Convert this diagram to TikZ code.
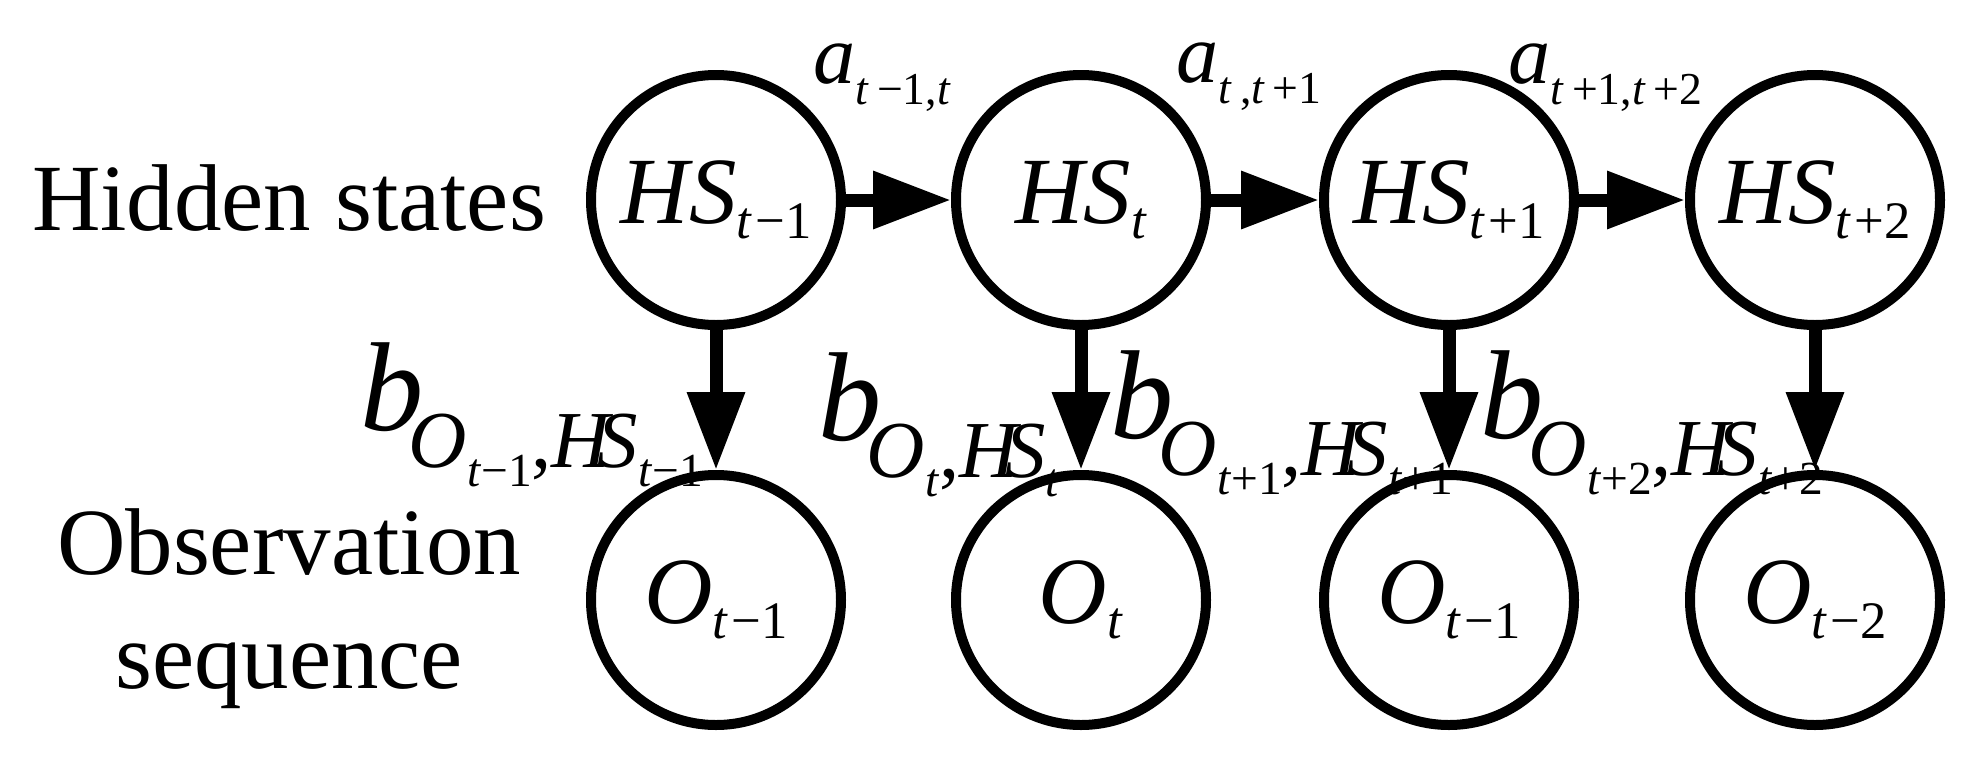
\documentclass[tikz,border=0pt]{standalone}
\usepackage{amsmath}
\usepackage{fontspec}
\setmainfont{Liberation Serif}
\usetikzlibrary{positioning,arrows.meta}

\newcommand{\lo}[1]{\raisebox{-0.15cm}{\fontsize{15}{16}\selectfont #1}}
\newcommand{\alo}[1]{\raisebox{-0.21cm}{\fontsize{13}{14}\selectfont #1}}
\newcommand{\blo}[1]{\raisebox{-0.37cm}{\fontsize{23}{25}\selectfont #1}}
\newcommand{\bblo}[1]{\raisebox{-0.19cm}{\fontsize{13.5}{14}\selectfont #1}}
\newcommand{\ti}{\textit{t}}

\begin{document}
\begin{tikzpicture}[
    state/.style={circle, draw, line width=0.1cm, minimum size=2.5cm, inner sep=0pt,
        font=\fontsize{27}{30}\selectfont},
    arr/.style={line width=0.13cm, -{Triangle[length=0.78cm, width=0.55cm]}},
    lab/.style={inner sep=0pt, anchor=base west},
    side/.style={inner sep=0pt, align=center, font=\fontsize{27}{32.6}\selectfont}]

    \useasboundingbox (0,0) rectangle (19.79,-7.79);

    % hidden states
    \node[state] (hs1) at (7.16,-2.00) {\textit{HS}\lo{\ti\kern.06em−1}};
    \node[state] (hs2) at (10.81,-2.00) {\textit{HS}\lo{\ti}};
    \node[state] (hs3) at (14.49,-2.00) {\textit{HS}\lo{\ti\kern.06em+1}};
    \node[state] (hs4) at (18.15,-2.00) {\textit{HS}\lo{\ti\kern.06em+2}};

    % observations
    \node[state] (ob1) at (7.16,-6.00) {\textit{O}\lo{\ti\kern.06em−1}};
    \node[state] (ob2) at (10.81,-6.00) {\textit{O}\lo{\ti}};
    \node[state] (ob3) at (14.49,-6.00) {\textit{O}\lo{\ti\kern.06em−1}};
    \node[state] (ob4) at (18.15,-6.00) {\textit{O}\lo{\ti\kern.06em−2}};

    \node[side, anchor=base] (hid) at (2.89,-2.30) {Hidden states};
    \node[side] (obs) at (2.89,-6.085) {Observation\\sequence};

    % transition labels
    \node[lab, font=\fontsize{24}{26}\selectfont] (a12) at (8.13,-0.83)
        {\textit{a}\alo{\ti\,−1,\ti}};
    \node[lab, font=\fontsize{24}{26}\selectfont] (a23) at (11.76,-0.82)
        {\textit{a}\alo{\ti\,,\ti\,+1}};
    \node[lab, font=\fontsize{24}{26}\selectfont] (a34) at (15.08,-0.83)
        {\textit{a}\alo{\ti\,+1,\ti\,+2}};

    % emission labels
    \node[lab, font=\fontsize{36}{40}\selectfont] (b1) at (3.60,-4.30)
        {\textit{b}\kern-.12em\blo{\textit{O}\bblo{\ti−1},\textit{H}\kern-.2em\textit{S}\bblo{\ti−1}}};
    \node[lab, font=\fontsize{36}{40}\selectfont] (b2) at (8.18,-4.40)
        {\textit{b}\kern-.12em\blo{\textit{O}\bblo{\ti},\textit{H}\kern-.2em\textit{S}\bblo{\ti}}};
    \node[lab, font=\fontsize{36}{40}\selectfont] (b3) at (11.10,-4.38)
        {\textit{b}\kern-.12em\blo{\textit{O}\bblo{\ti+1},\textit{H}\kern-.2em\textit{S}\bblo{\ti+1}}};
    \node[lab, font=\fontsize{36}{40}\selectfont] (b4) at (14.80,-4.38)
        {\textit{b}\kern-.12em\blo{\textit{O}\bblo{\ti+2},\textit{H}\kern-.2em\textit{S}\bblo{\ti+2}}};

    \path[arr]
        (hs1) edge (hs2)
        (hs2) edge (hs3)
        (hs3) edge (hs4)

        (hs1) edge (ob1)
        (hs2) edge (ob2)
        (hs3) edge (ob3)
        (hs4) edge (ob4);

\end{tikzpicture}
\end{document}
